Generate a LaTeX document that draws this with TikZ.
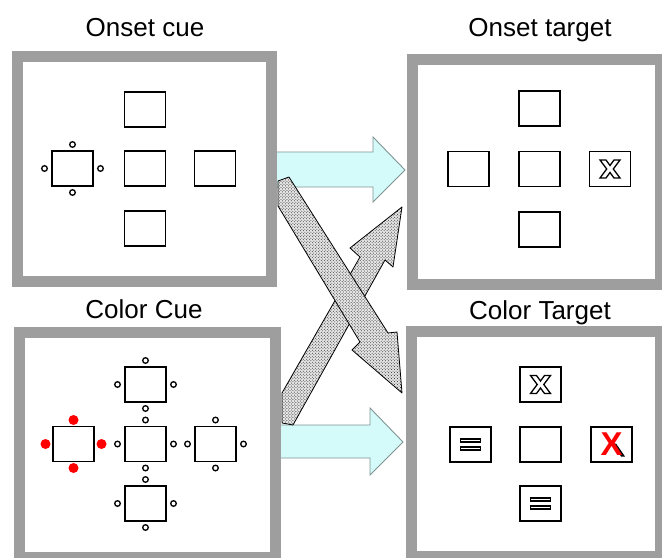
\documentclass[tikz,border=0pt]{standalone}
\usepackage{fontspec}
\setmainfont{Liberation Sans}
\usetikzlibrary{calc,patterns}
\definecolor{frame}{RGB}{158,158,158}
\definecolor{cuefill}{RGB}{212,250,250}
\definecolor{cueline}{RGB}{128,148,148}
\tikzset{
  panel/.style={draw=frame, line width=11bp, fill=white},
  title/.style={font=\fontsize{26bp}{30bp}\selectfont, anchor=base, inner sep=0pt},
  stim/.style={draw, line width=1.6bp, minimum width=41bp, minimum height=35bp, inner sep=0pt, fill=white},
  ring/.style={draw, line width=1.3bp, fill=white, radius=2.8bp},
  reddot/.style={fill=red, radius=5bp},
  glyph/.style={draw, line width=1.3bp, fill=white, line join=miter},
  cuearrow/.style={draw=cueline, line width=0.9bp, fill=cuefill, line join=miter},
  swaparrow/.style={draw=black, line width=0.8bp, preaction={fill=black!10}, pattern=crosshatch dots, pattern color=black!85, line join=round},
  redx/.style={font=\fontsize{33bp}{36bp}\bfseries\selectfont, inner sep=0pt, text=red}
}
\def\placerings[#1](#2){\foreach \dx/\dy in {0/-24,0/24,-28/0,28/0}{\path[#1] ($(#2)+(\dx,\dy)$) circle;}}
\def\hollowx(#1){\draw[glyph, shift={(#1)}] (-10,-9) -- (-4,-9) -- (0,-3.5) -- (4,-9) -- (10,-9) -- (3.3,0) -- (10,9) -- (4,9) -- (0,3.5) -- (-4,9) -- (-10,9) -- (-3.3,0) -- cycle;}
\def\hollowbars(#1){\draw[glyph, line width=1.7bp, shift={(#1)}] (-10,-5.5) rectangle (10,-2.5) (-10,2.5) rectangle (10,5.5);}

\begin{document}
\begin{tikzpicture}[x=1bp, y=-1bp]
		%%%%% START %%%%%
		\useasboundingbox[fill=white] (0,0) rectangle (662,558);
		
		\node[title] (t-oc) at (145,37) {Onset cue};
		\node[title] (t-ot) at (540,37) {Onset target};
		\node[title] (t-cc) at (144,318) {Color Cue};
		\node[title] (t-ct) at (540,319) {Color Target};
		
		\draw[panel] (17.5,56.5) rectangle (271.5,281);
		\draw[panel] (19.5,332) rectangle (275.5,557);
		\draw[panel] (412.5,60) rectangle (660.5,284);
		\draw[panel] (411.5,331) rectangle (660.5,556);
		
		% onset cue
		\node[stim] (oc-n) at (145,109.5) {};
		\node[stim] (oc-w) at (72.5,168.5) {};
		\node[stim] (oc-c) at (145,168.5) {};
		\node[stim] (oc-e) at (215,168.5) {};
		\node[stim] (oc-s) at (145,228.5) {};
		\placerings[ring](oc-w);
		
		% color cue
		\node[stim] (cc-n) at (145.5,384.5) {};
		\node[stim] (cc-w) at (73.5,444) {};
		\node[stim] (cc-c) at (145.5,444) {};
		\node[stim] (cc-e) at (215.5,444) {};
		\node[stim] (cc-s) at (145.5,503.5) {};
		\foreach \b in {cc-n,cc-c,cc-e,cc-s}{\placerings[ring](\b);}
		\placerings[reddot](cc-w);
		
		% onset target
		\node[stim] (ot-n) at (539.5,108.5) {};
		\node[stim] (ot-w) at (468.5,169) {};
		\node[stim] (ot-c) at (539.5,169) {};
		\node[stim] (ot-e) at (610,169) {};
		\node[stim] (ot-s) at (539.5,229.5) {};
		\hollowx(ot-e);
		
		% color target
		\node[stim] (ct-n) at (540.5,384.5) {};
		\node[stim] (ct-w) at (470.5,444.5) {};
		\node[stim] (ct-c) at (540.5,444.5) {};
		\node[stim] (ct-e) at (611.5,444.5) {};
		\node[stim] (ct-s) at (540.5,503.5) {};
		\hollowx(ct-n);
		\hollowbars(ct-w);
		\hollowbars(ct-s);
		\fill ($(ct-e)+(1.5,-1)$) -- ($(ct-e)+(4.5,-1)$) -- ($(ct-e)+(13.5,12)$) -- ($(ct-e)+(9.5,12)$) -- cycle;
		\node[redx] (xred) at (ct-e) {X};
		
		% arrows
		\draw[cuearrow] (277,152) -- (373,152) -- (373,137) -- (405,170) -- (373,202) -- (373,187) -- (277,187);
		\draw[cuearrow] (281,425) -- (370,425) -- (370,408) -- (403,442) -- (370,475) -- (370,458) -- (281,458);
		
		\draw[swaparrow] (282,423) -- (282,393) -- (360,257) -- (350,248) -- (402,207) -- (393,267) -- (385,260) -- (293,425) -- cycle;
		\draw[swaparrow] (278,181) -- (289,177) -- (388,333) -- (397,332) -- (402,393) -- (352,350) -- (360,342) -- (278,206) -- cycle;
		
		%%%%% END %%%%%
\end{tikzpicture}
\end{document}
